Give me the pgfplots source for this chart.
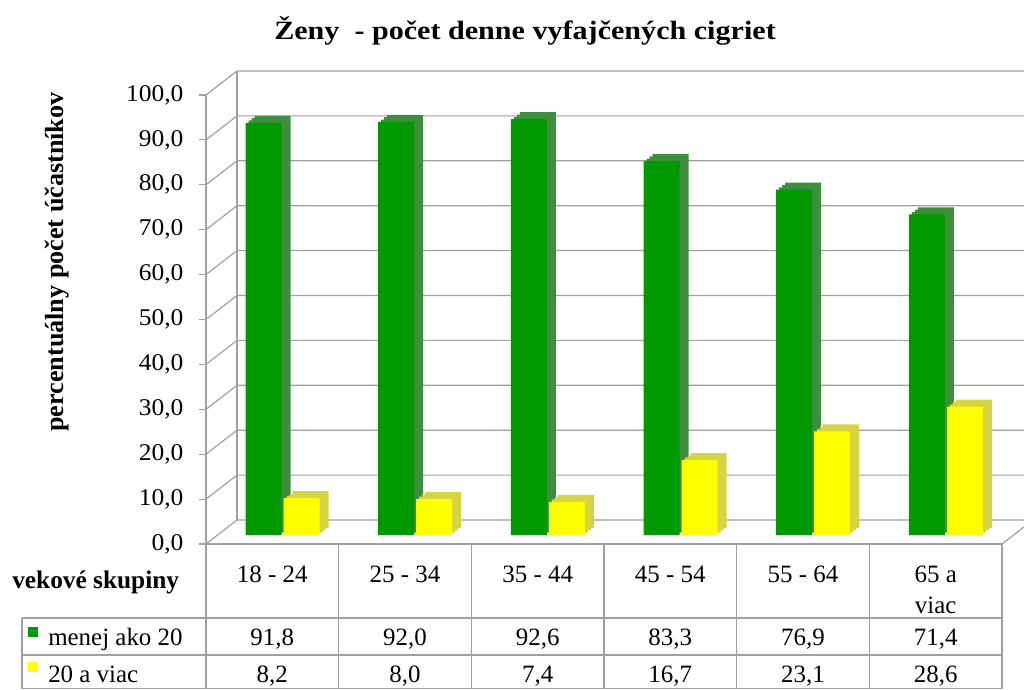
\documentclass[border=0pt]{standalone}
\usepackage{fontspec}
\setmainfont{Liberation Serif}
\usepackage{pgfplots}
\pgfplotsset{compat=1.18}
\definecolor{gfront}{HTML}{009A00}
\definecolor{gside}{HTML}{3E8E3E}
\definecolor{yfront}{HTML}{FFFF00}
\definecolor{yside}{HTML}{D4D444}
\definecolor{gridc}{HTML}{A0A0A0}
\begin{document}
\begin{tikzpicture}[x=0.75pt,y=0.75pt]
\useasboundingbox (0,0) rectangle (1024,689);
\coordinate (O) at (206,145);
\begin{axis}[
  at={(O)}, anchor=origin,
  scale only axis, width=597pt, height=336.75pt,
  xmin=0, xmax=6, ymin=0, ymax=100, clip=false,
  axis lines*=left, axis line style={gridc, line width=0.8pt, -},
  xtick=\empty, ytick={0,10,...,100},
  tick align=outside, major tick length=5.25pt,
  ytick style={gridc, line width=0.8pt},
  yticklabel style={font=\fontsize{18}{20}\selectfont, xscale=1.06, xshift=-7.5pt,
    /pgf/number format/.cd, fixed, fixed zerofill, precision=1, use comma, assume math mode=true},
]
% back wall and depth lines
\pgfplotsinvokeforeach{0,10,...,100}{
  \draw[gridc, line width=0.9pt] (axis cs:0,#1) -- ([shift={(23.25pt,18pt)}]axis cs:0,#1) -- ([shift={(23.25pt,18pt)}]axis cs:6,#1);
}
\draw[gridc, line width=0.9pt] ([shift={(23.25pt,18pt)}]axis cs:0,0) -- ([shift={(23.25pt,18pt)}]axis cs:0,100);
\draw[gridc, line width=0.9pt] (axis cs:6,0) -- ([shift={(23.25pt,18pt)}]axis cs:6,0);
% green bars: depth copies then front
\addplot[ybar, bar width=27pt, bar shift=-6.6pt, fill=gside, draw=none, xshift=6.75pt, yshift=12pt]
  coordinates {(0.5,91.8) (1.5,92.0) (2.5,92.6) (3.5,83.3) (4.5,76.9) (5.5,71.4)};
\addplot[ybar, bar width=27pt, bar shift=-6.6pt, fill=gside, draw=none, xshift=4.5pt, yshift=10.25pt]
  coordinates {(0.5,91.8) (1.5,92.0) (2.5,92.6) (3.5,83.3) (4.5,76.9) (5.5,71.4)};
\addplot[ybar, bar width=27pt, bar shift=-6.6pt, fill=gside, draw=none, xshift=2.25pt, yshift=8.5pt]
  coordinates {(0.5,91.8) (1.5,92.0) (2.5,92.6) (3.5,83.3) (4.5,76.9) (5.5,71.4)};
\addplot[ybar, bar width=27pt, bar shift=-6.6pt, fill=gfront, draw=none, yshift=6.75pt]
  coordinates {(0.5,91.8) (1.5,92.0) (2.5,92.6) (3.5,83.3) (4.5,76.9) (5.5,71.4)};
% yellow bars
\addplot[ybar, bar width=27pt, bar shift=21.9pt, fill=yside, draw=none, xshift=6.75pt, yshift=12pt]
  coordinates {(0.5,8.2) (1.5,8.0) (2.5,7.4) (3.5,16.7) (4.5,23.1) (5.5,28.6)};
\addplot[ybar, bar width=27pt, bar shift=21.9pt, fill=yside, draw=none, xshift=4.5pt, yshift=10.25pt]
  coordinates {(0.5,8.2) (1.5,8.0) (2.5,7.4) (3.5,16.7) (4.5,23.1) (5.5,28.6)};
\addplot[ybar, bar width=27pt, bar shift=21.9pt, fill=yside, draw=none, xshift=2.25pt, yshift=8.5pt]
  coordinates {(0.5,8.2) (1.5,8.0) (2.5,7.4) (3.5,16.7) (4.5,23.1) (5.5,28.6)};
\addplot[ybar, bar width=27pt, bar shift=21.9pt, fill=yfront, draw=none, yshift=6.75pt]
  coordinates {(0.5,8.2) (1.5,8.0) (2.5,7.4) (3.5,16.7) (4.5,23.1) (5.5,28.6)};
\end{axis}
% title and y label
\node[anchor=base, inner sep=0, font=\fontsize{19.8}{22}\selectfont\bfseries, xscale=1.14] at (525,649) {Ženy \ - počet denne vyfajčených cigriet};
\node[anchor=base, inner sep=0, rotate=90, font=\fontsize{19.6}{22}\selectfont\bfseries] at (63,427) {percentuálny počet účastníkov};
% table lines
\begin{scope}[gridc, line width=0.8pt]
  \foreach \xx in {206,338.67,471.33,604,736.67,869.33,1002} { \draw (\xx,145) -- (\xx,0); }
  \draw (22,71) -- (22,0);
  \draw (22,71) -- (1002,71);
  \draw (22,34) -- (1002,34);
  \draw (22,0.5) -- (1002,0.5);
\end{scope}
% table text
\begin{scope}[every node/.style={inner sep=0, anchor=base, font=\fontsize{18.7}{22}\selectfont}]
  \node at (272.3,106) {18 - 24};
  \node at (405,106) {25 - 34};
  \node at (537.7,106) {35 - 44};
  \node at (670.3,106) {45 - 54};
  \node at (803,106) {55 - 64};
  \node at (935.7,106) {65 a};
  \node at (935.7,76) {viac};
  \node at (272.3,44) {91,8};
  \node at (405,44) {92,0};
  \node at (537.7,44) {92,6};
  \node at (670.3,44) {83,3};
  \node at (803,44) {76,9};
  \node at (935.7,44) {71,4};
  \node at (272.3,7) {8,2};
  \node at (405,7) {8,0};
  \node at (537.7,7) {7,4};
  \node at (670.3,7) {16,7};
  \node at (803,7) {23,1};
  \node at (935.7,7) {28,6};
  \node[anchor=base west] at (48,44) {menej ako 20};
  \node[anchor=base west] at (48,7) {20 a viac};
  \node[anchor=base west, font=\fontsize{19}{22}\selectfont\bfseries] at (12,100) {vekové skupiny};
\end{scope}
\fill[gfront] (28,52) rectangle (38,62);
\fill[yfront] (28,17) rectangle (38,27);
\end{tikzpicture}
\end{document}
